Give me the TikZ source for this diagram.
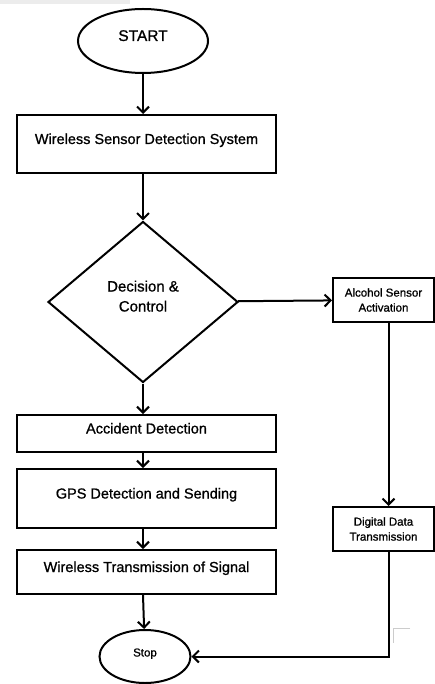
\documentclass[tikz,border=0pt]{standalone}
\usepackage{fontspec}
\setmainfont{Liberation Sans}[RawFeature = {embolden=0.9}]
\usetikzlibrary{shapes.geometric, arrows.meta}

\begin{document}

\begin{tikzpicture}[x = 1pt, y = -1pt, > = {Straight Barb[length = 6pt, width = 12pt]}, line width = 2pt,
	terminal/.style = {draw, ellipse, inner sep = 0pt, text height = 10pt, text depth = 10pt},
	box/.style = {draw, rectangle, minimum width = 259pt, inner sep = 0pt, text height = 10.5pt, text depth = 10.5pt, font = \fontsize{14.5}{17}\selectfont},
	decision/.style = {draw, diamond, minimum width = 190pt, minimum height = 161pt, inner sep = 0pt, text height = 25pt, text depth = 6pt, font = \fontsize{15}{20}\selectfont},
	sidebox/.style = {draw, rectangle, minimum width = 101pt, minimum height = 44pt, inner sep = 0pt, align = center, font = \fontsize{11.5}{15}\selectfont}]

	\useasboundingbox (0, 0) rectangle (435, 684);

	% Scan marks
	
	\fill [gray!15] (0, 0) rectangle (130, 4);
	\draw [gray!40, line width = 0.8pt] (410, 628) -- (393, 628) -- (393, 643);

	% Main column
	
	\node [terminal, minimum width = 130pt, minimum height = 64pt, font = \fontsize{15.5}{18}\selectfont] (start) at (143, 41) {START};
	\node [box, minimum height = 58pt] (wsds) at (146.5, 144) {Wireless Sensor Detection System};
	\node [decision] (dec) at (143, 302) {\begin{tabular}[b]{@{}c@{}}Decision \&\\Control\end{tabular}};
	\node [box, minimum height = 37pt] (acc) at (146.5, 433.5) {Accident Detection};
	\node [box, minimum height = 59pt] (gps) at (146.5, 498.5) {GPS Detection and Sending};
	\node [box, minimum height = 44pt] (wts) at (146.5, 572) {Wireless Transmission of Signal};
	\node [terminal, minimum width = 91pt, minimum height = 53pt, font = \fontsize{11.5}{14}\selectfont] (stop) at (145, 656.5) {Stop};

	% Side column
	
	\node [sidebox] (alc) at (383.5, 300) {Alcohol Sensor\\Activation};
	\node [sidebox] (dig) at (383.5, 529) {Digital Data\\Transmission};

	% Arrows
	
	\draw [->] (start) -- (start |- wsds.north);
	\draw [->] (start |- wsds.south) -- (dec);
	\draw [->] (dec) -- (dec |- acc.north);
	\draw [->] (dec |- acc.south) -- (dec |- gps.north);
	\draw [->] (dec |- gps.south) -- (dec |- wts.north);
	\draw [->] (dec |- wts.south) -- (stop);
	\draw [->] (dec) -- (alc);
	\draw [->] ([xshift = 5pt] alc.south) -- ([xshift = 5pt] dig.north);
	\draw [->] ([xshift = 5pt] dig.south) |- (stop);

\end{tikzpicture}

\end{document}
